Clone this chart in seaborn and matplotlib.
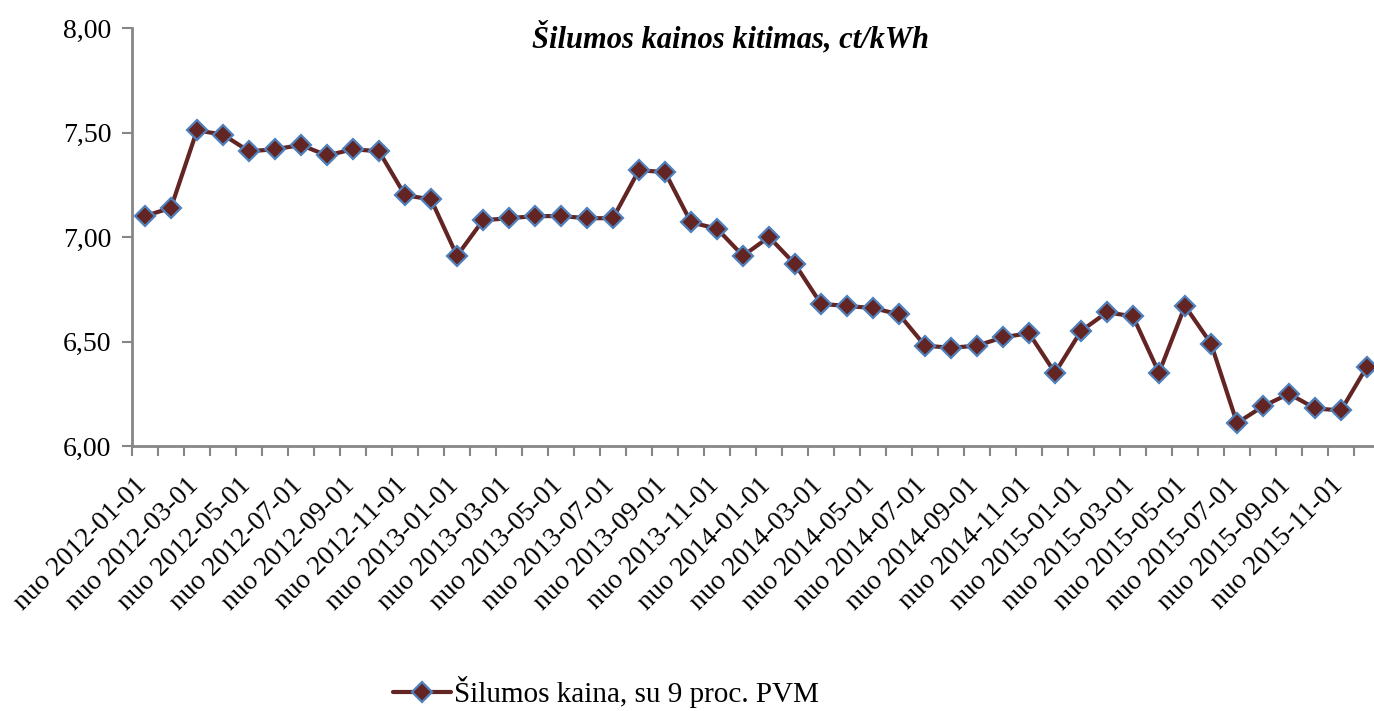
import matplotlib
matplotlib.use("Agg")
import matplotlib.pyplot as plt
from matplotlib.ticker import FuncFormatter, FixedLocator
from matplotlib.lines import Line2D
from matplotlib.transforms import ScaledTranslation
import seaborn as sns
import pandas as pd

# monthly heat price, ct/kWh
months = pd.date_range("2012-01-01", "2015-12-01", freq="MS")
prices = [
    7.10, 7.14, 7.51, 7.49, 7.41, 7.42, 7.44, 7.39, 7.42, 7.41, 7.20, 7.18,
    6.91, 7.08, 7.09, 7.10, 7.10, 7.09, 7.09, 7.32, 7.31, 7.07, 7.04, 6.91,
    7.00, 6.87, 6.68, 6.67, 6.66, 6.63, 6.48, 6.47, 6.48, 6.52, 6.54, 6.35,
    6.55, 6.64, 6.62, 6.35, 6.67, 6.49, 6.11, 6.19, 6.25, 6.18, 6.17, 6.38,
]
tick_labels = ["nuo " + m.strftime("%Y-%m-%d") for m in months]
y_ticks = [6.0, 6.5, 7.0, 7.5, 8.0]

title = "Šilumos kainos kitimas, ct/kWh"
series_name = "Šilumos kaina, su 9 proc. PVM"

line_color = "#632523"
edge_color = "#4F81BD"
axis_color = "#868686"

sns.set_style("white")
plt.rcParams["font.family"] = ["Liberation Serif", "DejaVu Serif"]
plt.rcParams["text.color"] = "black"

df = pd.DataFrame({"idx": range(len(prices)), "price": prices})

fig = plt.figure(figsize=(13.74, 7.11), dpi=100)
ax = fig.add_axes([132 / 1374, 1 - 446 / 711, 1248 / 1374, 418 / 711])

marker_kw = dict(marker="D", markersize=10, markerfacecolor=line_color,
                 markeredgecolor=edge_color, markeredgewidth=1.6)
sns.lineplot(data=df, x="idx", y="price", ax=ax, color=line_color, linewidth=3.0, **marker_kw)

ax.set_xlim(-0.5, len(prices) - 0.5)
ax.set_ylim(6.0, 8.0)
ax.set_xlabel("")
ax.set_ylabel("")

# y axis
ax.set_yticks(y_ticks)
ax.yaxis.set_major_formatter(FuncFormatter(lambda v, p: f"{v:.2f}".replace(".", ",")))
ax.tick_params(axis="y", left=True, length=7, width=1.5, color=axis_color,
               labelcolor="black", labelsize=20, pad=8)

# x axis: tick marks between categories, labels every 2nd month
ax.xaxis.set_minor_locator(FixedLocator([i - 0.5 for i in range(len(prices) + 1)]))
ax.set_xticks(range(0, len(prices), 2))
ax.set_xticklabels(tick_labels[::2], rotation=45, ha="right", rotation_mode="anchor")
ax.tick_params(axis="x", which="major", bottom=False, length=0, labelsize=19.8,
               labelcolor="black", pad=18)
ax.tick_params(axis="x", which="minor", bottom=True, length=7, width=1.5, color=axis_color)

# nudge the slanted labels so their ends sit under the category centres
shift = ScaledTranslation(-11 / 100, -2 / 100, fig.dpi_scale_trans)
for lbl in ax.get_xticklabels():
    lbl.set_transform(lbl.get_transform() + shift)

for side in ["top", "right"]:
    ax.spines[side].set_visible(False)
for side in ["left", "bottom"]:
    ax.spines[side].set_color(axis_color)
    ax.spines[side].set_linewidth(2)
ax.grid(False)

fig.text(731 / 1374, 1 - 38 / 711, title, ha="center", va="center",
         fontsize=22, fontweight="bold", fontstyle="italic")

handle = Line2D([], [], color=line_color, linewidth=3.0, **marker_kw)
fig.legend([handle], [series_name], loc="center", bbox_to_anchor=(606 / 1374, 1 - 692 / 711),
           frameon=False, fontsize=21, handlelength=2.0, handletextpad=0.1)

fig.savefig("out.png", dpi=100)
